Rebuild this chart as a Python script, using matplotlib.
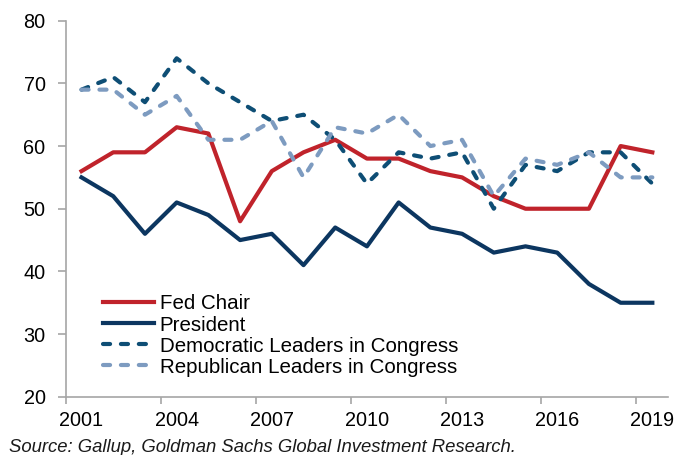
import matplotlib.pyplot as plt
import numpy as np

# data (Gallup confidence, %)
years = list(range(2001, 2020))
fed_chair = [56, 59, 59, 63, 62, 48, 56, 59, 61, 58, 58, 56, 55, 52, 50, 50, 50, 60, 59]
president = [55, 52, 46, 51, 49, 45, 46, 41, 47, 44, 51, 47, 46, 43, 44, 43, 38, 35, 35]
democrats = [69, 71, 67, 74, 70, 67, 64, 65, 61, 54, 59, 58, 59, 50, 57, 56, 59, 59, 54]
republicans = [69, 69, 65, 68, 61, 61, 64, 55, 63, 62, 65, 60, 61, 52, 58, 57, 59, 55, 55]
tick_years = [2001, 2004, 2007, 2010, 2013, 2016, 2019]

plt.rcParams['font.family'] = ['Liberation Sans', 'DejaVu Sans']

fig = plt.figure(figsize=(6.77, 4.55), dpi=100)
ax = fig.add_axes([0.097, 0.128, 0.89, 0.8265])

lw = 3.0
dash = (1.7, 2.6)
ax.plot(years, fed_chair, color='#C0232B', lw=lw, label='Fed Chair')
ax.plot(years, president, color='#0C3660', lw=lw, label='President')
ax.plot(years, democrats, color='#0E4E75', lw=lw, dashes=dash,
        dash_capstyle='round', label='Democratic Leaders in Congress')
ax.plot(years, republicans, color='#7D9BC0', lw=lw, dashes=dash,
        dash_capstyle='round', label='Republican Leaders in Congress')

ax.set_xlim(2000.5, 2019.5)
ax.set_ylim(20, 80)
ax.set_yticks(range(20, 81, 10))

# tick marks between categories, labels on the categories
ax.set_xticks(np.arange(2000.5, 2019, 3))
ax.set_xticklabels([])
ax.set_xticks(tick_years, minor=True)
ax.set_xticklabels([str(y) for y in tick_years], minor=True)
ax.tick_params(axis='x', which='minor', length=0, labelsize=14.3, pad=10)
ax.tick_params(axis='x', which='major', length=5, width=1.2, color='#A6A6A6')
ax.tick_params(axis='y', length=5.5, width=1.2, color='#A6A6A6', labelsize=14.3, pad=9)

for s in ['top', 'right']:
    ax.spines[s].set_visible(False)
for s in ['left', 'bottom']:
    ax.spines[s].set_color('#A6A6A6')
    ax.spines[s].set_linewidth(1.2)

ax.legend(loc='upper left', bbox_to_anchor=(0.062, 0.272), frameon=False,
          fontsize=14.8, handlelength=2.5, handletextpad=0.25,
          labelspacing=0.1, borderpad=0, borderaxespad=0)

fig.text(0.014, 0.006, 'Source: Gallup, Goldman Sachs Global Investment Research.',
         fontsize=13.3, style='italic', color='#1A1A1A')

fig.savefig('out.png', dpi=100)
